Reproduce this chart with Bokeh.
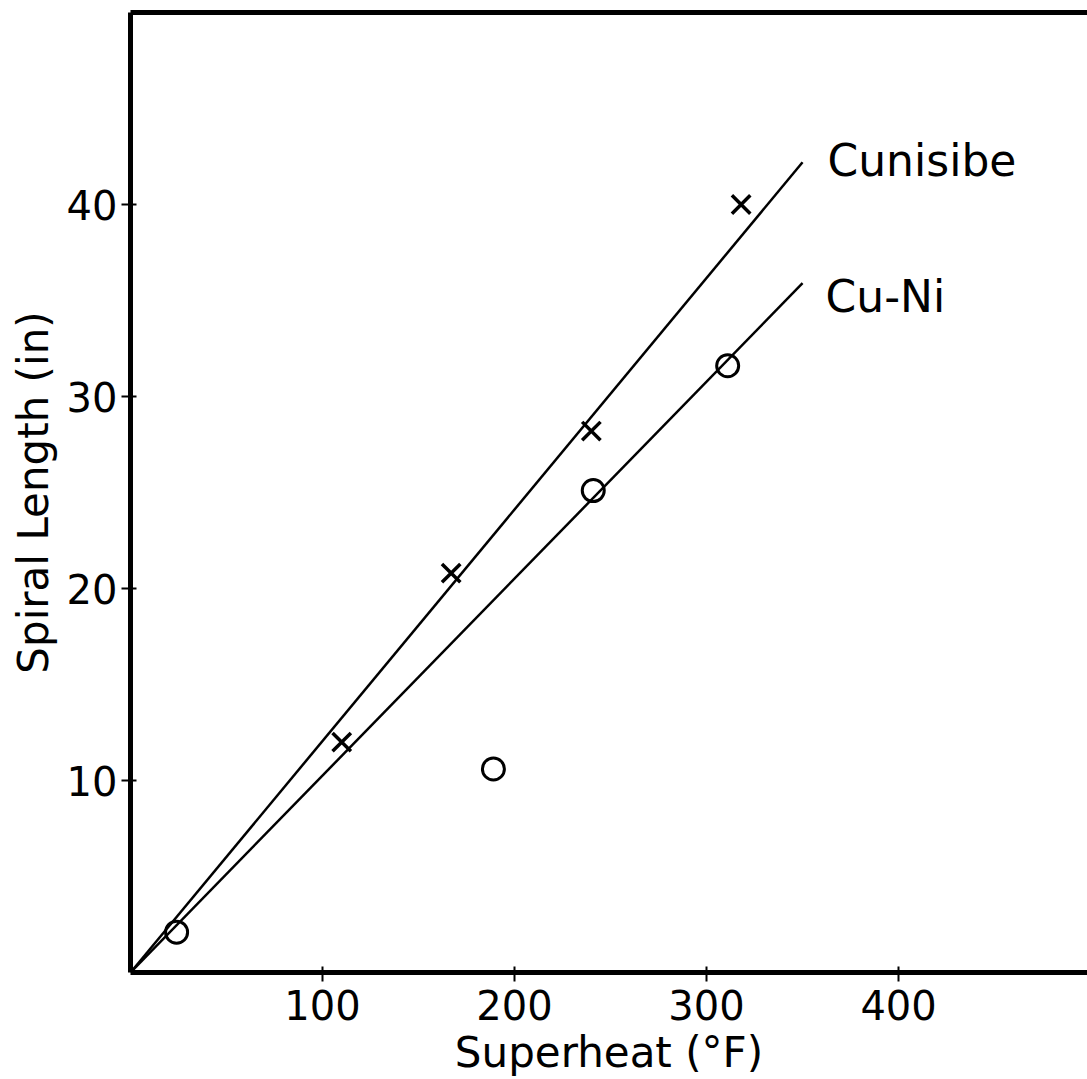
from bokeh.plotting import figure
from bokeh.models import LinearAxis, FixedTicker, Range1d, ColumnDataSource
from bokeh.embed import file_html
from bokeh.resources import INLINE
from bokeh.core.properties import value

# ---- data ----
cunisibe_superheat = [110, 167, 240, 318]
cunisibe_length = [12.0, 20.8, 28.2, 40.0]
cuni_superheat = [24, 189, 241, 311]
cuni_length = [2.1, 10.6, 25.1, 31.6]
fit_superheat = [0, 350]
fit_cunisibe = [0, 42.2]
fit_cuni = [0, 35.9]
x_ticks = [100, 200, 300, 400]
y_ticks = [10, 20, 30, 40]
series_names = ["Cunisibe", "Cu-Ni"]
series_label_x = [363, 362]
series_label_y = [42.3, 35.2]

FONT = "DejaVu Sans"

p = figure(width=1087, height=1079,
           x_range=Range1d(0, 498.4), y_range=Range1d(0, 50),
           output_backend="svg", toolbar_location=None,
           min_border_left=130, min_border_right=0,
           min_border_top=12, min_border_bottom=106,
           x_axis_label="Superheat (°F)", y_axis_label="Spiral Length (in)")
p.grid.visible = False
p.outline_line_color = None
p.background_fill_color = "white"
p.border_fill_color = "white"

for ax, ticks in ((p.xaxis[0], x_ticks), (p.yaxis[0], y_ticks)):
    ax.ticker = FixedTicker(ticks=ticks)
    ax.axis_line_width = 5
    ax.axis_line_color = "black"
    ax.major_tick_line_width = 2
    ax.major_tick_line_color = "black"
    ax.major_tick_in = 6
    ax.major_tick_out = 9
    ax.minor_tick_line_color = None
    ax.major_label_text_font = FONT
    ax.major_label_text_font_size = "40px"
    ax.major_label_text_color = "black"
    ax.axis_label_text_font = FONT
    ax.axis_label_text_font_size = "42px"
    ax.axis_label_text_font_style = "normal"
    ax.axis_label_text_color = "black"
p.xaxis[0].major_label_standoff = 8
p.xaxis[0].axis_label_standoff = 5
p.yaxis[0].major_label_standoff = 4
p.yaxis[0].axis_label_standoff = 6

top = LinearAxis(ticker=FixedTicker(ticks=[]), axis_line_width=5,
                 axis_line_color="black", major_tick_line_color=None,
                 minor_tick_line_color=None)
p.add_layout(top, "above")

p.line(fit_superheat, fit_cunisibe, line_color="black", line_width=2.5)
p.line(fit_superheat, fit_cuni, line_color="black", line_width=2.5)

p.scatter(cunisibe_superheat, cunisibe_length, marker="x", size=26,
          line_color="black", line_width=3.5)
p.scatter(cuni_superheat, cuni_length, marker="circle", size=22,
          line_color="black", line_width=3, fill_color=None)

src = ColumnDataSource(dict(x=series_label_x, y=series_label_y, t=series_names))
p.text(x="x", y="y", text="t", source=src, text_font=value(FONT),
       text_font_size="44px", text_align="left", text_baseline="middle",
       text_color="black")

open("out.html", "w").write(file_html(p, INLINE))
